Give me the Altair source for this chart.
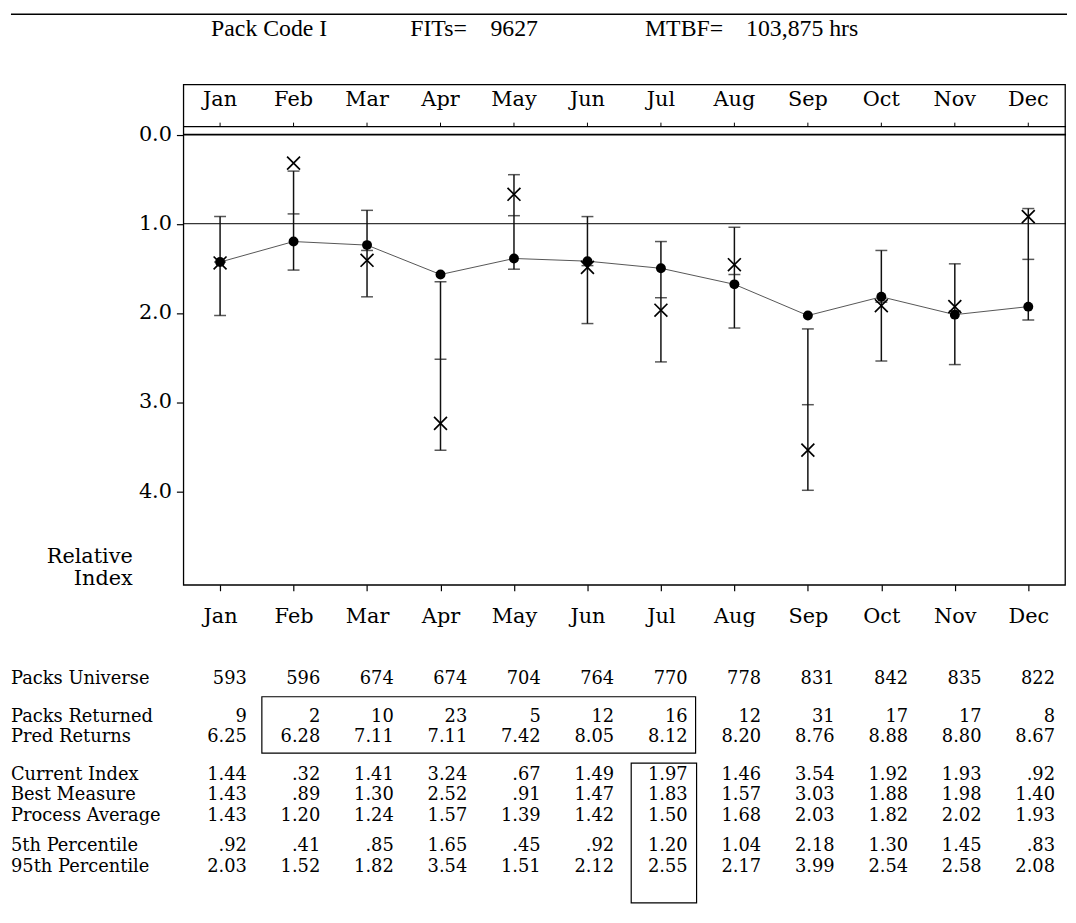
import altair as alt
import pandas as pd

# ---------------- data ----------------
months = ["Jan", "Feb", "Mar", "Apr", "May", "Jun", "Jul", "Aug", "Sep", "Oct", "Nov", "Dec"]
packs_universe = [593, 596, 674, 674, 704, 764, 770, 778, 831, 842, 835, 822]
packs_returned = [9, 2, 10, 23, 5, 12, 16, 12, 31, 17, 17, 8]
pred_returns = [6.25, 6.28, 7.11, 7.11, 7.42, 8.05, 8.12, 8.20, 8.76, 8.88, 8.80, 8.67]
current_index = [1.44, 0.32, 1.41, 3.24, 0.67, 1.49, 1.97, 1.46, 3.54, 1.92, 1.93, 0.92]
best_measure = [1.43, 0.89, 1.30, 2.52, 0.91, 1.47, 1.83, 1.57, 3.03, 1.88, 1.98, 1.40]
process_average = [1.43, 1.20, 1.24, 1.57, 1.39, 1.42, 1.50, 1.68, 2.03, 1.82, 2.02, 1.93]
pct5 = [0.92, 0.41, 0.85, 1.65, 0.45, 0.92, 1.20, 1.04, 2.18, 1.30, 1.45, 0.83]
pct95 = [2.03, 1.52, 1.82, 3.54, 1.51, 2.12, 2.55, 2.17, 3.99, 2.54, 2.58, 2.08]
y_ticks = [0, 1, 2, 3, 4]
reference_lines = [0, 1]
title_parts = ["Pack Code I", "FITs=", "9627", "MTBF=", "103,875 hrs"]
y_title_lines = ["Relative", "Index"]

# ---------------- layout (pixels, relative to plot area) ----------------
W, H = 890, 505
Y0_PX = 50.5          # pixel row of value 0.0
PX_PER_UNIT = 90.0
y_domain = [-Y0_PX / PX_PER_UNIT, (H - Y0_PX) / PX_PER_UNIT]
STEP = W / len(months)
LEFT_TEXT_X = -174
SERIF = "DejaVu Serif"
TITLE_FONT = "Liberation Serif"
TABLE_FONT_SIZE = 18
ROW_STEP = 20.5


def fmt2(v):
    s = f"{v:.2f}"
    return s[1:] if s.startswith("0.") else s


def fmt0(v):
    return str(v)


def xc(i):
    return STEP * (i + 0.5)


df = pd.DataFrame({
    "month": months,
    "cur": current_index,
    "best": best_measure,
    "avg": process_average,
    "p5": pct5,
    "p95": pct95,
})

x_scale = alt.Scale(type="point", domain=months, padding=0.5)
y_scale = alt.Scale(domain=y_domain, reverse=True, nice=False, zero=False)

x_axis = alt.Axis(orient="bottom", title=None, domain=False, grid=False, tickSize=6,
                  tickColor="black", tickWidth=1.2, labelFont=SERIF, labelFontSize=21,
                  labelColor="black", labelPadding=15, labelAngle=0)
y_axis = alt.Axis(values=y_ticks, format=".1f", title=None, domain=False, grid=False,
                  tickSize=7, tickColor="black", tickWidth=1.2, labelFont=SERIF,
                  labelFontSize=21, labelColor="black", labelPadding=5)

X = alt.X("month:N", scale=x_scale, axis=x_axis, sort=months)


def Y(field):
    return alt.Y(f"{field}:Q", scale=y_scale, axis=y_axis)


base = alt.Chart(df)
INK = "#111111"

bars = base.mark_rule(color=INK, strokeWidth=1.5).encode(x=X, y=Y("p5"), y2="p95")
cap_lo = base.mark_tick(color=INK, size=12, thickness=1.5).encode(x=X, y=Y("p5"))
cap_hi = base.mark_tick(color=INK, size=12, thickness=1.5).encode(x=X, y=Y("p95"))
best_tick = base.mark_tick(color=INK, size=12, thickness=1.5).encode(x=X, y=Y("best"))
avg_line = base.mark_line(color="#555555", strokeWidth=1).encode(x=X, y=Y("avg"))
avg_dots = base.mark_point(shape="circle", filled=True, size=100, color="black",
                           opacity=1).encode(x=X, y=Y("avg"))
cur_x = base.mark_point(shape="M-1,-1L1,1M-1,1L1,-1", filled=False, size=170,
                        strokeWidth=1.7, color="black", opacity=1).encode(x=X, y=Y("cur"))

ref_df = pd.DataFrame({"v": reference_lines, "w": [1.7, 1.0]})
ref_rules = alt.Chart(ref_df).mark_rule(color="black").encode(
    y=alt.Y("v:Q", scale=y_scale, axis=y_axis),
    x=alt.value(0), x2=alt.value(W + 1),
    strokeWidth=alt.StrokeWidth("w:Q", scale=None, legend=None),
)

# header inside the frame: month labels and a ticked line
TOPLINE = 42.5
top_line = alt.Chart(pd.DataFrame({"a": [0]})).mark_rule(color="black", strokeWidth=1.2).encode(
    x=alt.value(0), x2=alt.value(W + 1), y=alt.value(TOPLINE))
top_ticks = base.mark_rule(color="black", strokeWidth=1).encode(
    x=X, y=alt.value(TOPLINE - 4), y2=alt.value(TOPLINE))
top_labels = base.mark_text(font=SERIF, fontSize=21, color="black", baseline="middle").encode(
    x=X, y=alt.value(16), text="month:N")

# title line above the frame
title_x = [28, 229, 310, 466, 568]
layers_title = []
for part, tx in zip(title_parts, title_x):
    layers_title.append(
        alt.Chart(pd.DataFrame({"t": [part]})).mark_text(
            font=TITLE_FONT, fontSize=24, color="black", align="left", baseline="alphabetic"
        ).encode(x=alt.value(tx), y=alt.value(-49), text="t:N")
    )
top_rule = alt.Chart(pd.DataFrame({"a": [0]})).mark_rule(color="black", strokeWidth=1.5).encode(
    x=alt.value(LEFT_TEXT_X), x2=alt.value(W + 2), y=alt.value(-71))

# y title "Relative / Index"
ytitle_layers = []
for line, ty in zip(y_title_lines, [477, 499]):
    ytitle_layers.append(
        alt.Chart(pd.DataFrame({"t": [line]})).mark_text(
            font=SERIF, fontSize=21, color="black", align="right", baseline="middle"
        ).encode(x=alt.value(-51), y=alt.value(ty), text="t:N")
    )

# ---------------- table under the chart ----------------
row_groups = [
    [("Packs Universe", packs_universe, fmt0)],
    [("Packs Returned", packs_returned, fmt0), ("Pred Returns", pred_returns, fmt2)],
    [("Current Index", current_index, fmt2), ("Best Measure", best_measure, fmt2),
     ("Process Average", process_average, fmt2)],
    [("5th Percentile", pct5, fmt2), ("95th Percentile", pct95, fmt2)],
]
group_top = [600, 638, 697, 769]

table_layers = []
for g, rows in enumerate(row_groups):
    for r, (label, vals, f) in enumerate(rows):
        ty = group_top[g] + r * ROW_STEP
        tdf = pd.DataFrame({"month": months, "txt": [f(v) for v in vals]})
        table_layers.append(
            alt.Chart(tdf).mark_text(font=SERIF, fontSize=TABLE_FONT_SIZE, color="black",
                                     align="right", baseline="middle", dx=27).encode(
                x=X, y=alt.value(ty), text="txt:N")
        )
        table_layers.append(
            alt.Chart(pd.DataFrame({"t": [label]})).mark_text(
                font=SERIF, fontSize=TABLE_FONT_SIZE, color="black", align="left",
                baseline="middle"
            ).encode(x=alt.value(LEFT_TEXT_X), y=alt.value(ty), text="t:N")
        )

jul = months.index("Jul")
feb = months.index("Feb")
box_df = pd.DataFrame({"a": [0]})
box_returns = alt.Chart(box_df).mark_rect(fillOpacity=0, stroke="black", strokeWidth=1.2).encode(
    x=alt.value(xc(feb) - 32), x2=alt.value(xc(jul) + 35),
    y=alt.value(618), y2=alt.value(675))
box_jul = alt.Chart(box_df).mark_rect(fillOpacity=0, stroke="black", strokeWidth=1.2).encode(
    x=alt.value(xc(jul) - 30), x2=alt.value(xc(jul) + 36),
    y=alt.value(685), y2=alt.value(826))

chart = alt.layer(
    ref_rules, top_line, top_ticks, top_labels,
    avg_line, bars, cap_lo, cap_hi, best_tick, avg_dots, cur_x,
    top_rule, *layers_title, *ytitle_layers, *table_layers, box_returns, box_jul,
).properties(
    width=W, height=H,
    padding={"left": 2, "top": 1, "right": 0, "bottom": 0},
    background="white",
).configure_view(stroke="black", strokeWidth=1.3)

chart.save("out.html", embed_options={"renderer": "svg", "actions": False})
